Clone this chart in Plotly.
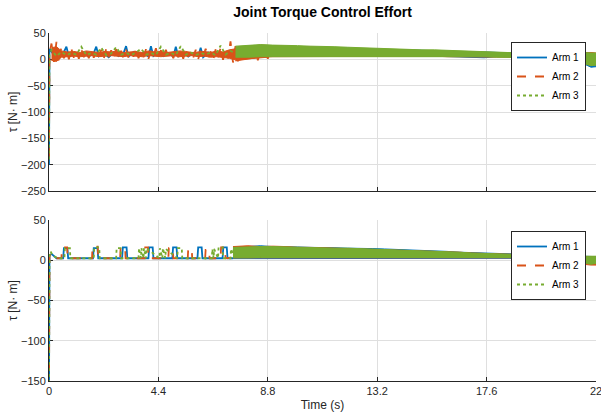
import plotly.graph_objects as go

# ---------------- data ----------------
# upper subplot: resolved start-up portion of each arm's torque
t_top_arm1 = [0.0, 0.02, 0.2, 0.4, 0.6, 0.7, 0.8, 1.0, 1.2, 1.4, 1.6, 1.8, 1.9, 2.0, 2.2, 2.4, 2.6,
              2.8, 3.0, 3.1, 3.2, 3.4, 3.6, 3.8, 4.0, 4.1, 4.2, 4.4, 4.6, 4.8, 5.0, 5.1, 5.2,
              5.4, 5.6, 5.8, 6.0, 6.1, 6.2, 6.4, 6.6, 6.8, 7.0, 7.2, 7.4, 7.5]
tau_top_arm1 = [-200, 20, 8, 2, 14, 24, 5, 12, 6, 13, 5, 12, 24, 6, 13, 4, 13,
                6, 12, 25, 5, 14, 6, 13, 5, 25, 6, 12, 6, 12, 5, 24, 6,
                14, 5, 12, 6, 22, 4, 13, 6, 12, 5, 13, 4, 12]

t_top_arm2 = [0.0, 0.02, 0.1, 0.2, 0.3, 0.4, 0.5, 0.6, 0.7, 0.8, 0.9, 1.0, 1.1, 1.2, 1.3, 1.4, 1.5,
              1.6, 1.7, 1.8, 1.9, 2.0, 2.1, 2.2, 2.3, 2.4, 2.5, 2.6, 2.7, 2.8, 2.9, 3.0, 3.1,
              3.2, 3.3, 3.4, 3.5, 3.6, 3.7, 3.8, 3.9, 4.0, 4.1, 4.2, 4.3, 4.4, 4.5, 4.6, 4.7,
              4.8, 4.9, 5.0, 5.1, 5.2, 5.3, 5.4, 5.5, 5.6, 5.7, 5.8, 5.9, 6.0, 6.1, 6.2, 6.3,
              6.4, 6.5, 6.6, 6.7, 6.8, 6.9, 7.0, 7.1, 7.2, 7.3, 7.4, 7.5, 7.6, 7.7, 7.8, 7.9,
              8.0, 8.1, 8.2, 8.3, 8.4, 8.5, 8.6, 8.7, 8.8, 8.9]
tau_top_arm2 = [-185, 12, 30, -5, 33, -8, 25, 2, 18, 0, 20, 3, 17, 1, 19, 4, 16,
                2, 21, 3, 15, 5, 18, 1, 20, 4, 17, 2, 19, 6, 16, 2, 18,
                3, 14, 5, 20, 2, 17, 4, 19, 1, 16, 5, 21, 3, 17, 2, 18,
                6, 15, 2, 19, 4, 17, 1, 20, 5, 16, 3, 18, 0, 17, 4, 20,
                2, 15, -2, 19, 3, 22, -1, 18, 2, 34, -6, 25, -4, 20, 0, 18,
                -3, 21, 2, 19, -2, 18, 3, 17, 1, 16]

# envelope of Arm 2's dense chatter during start-up
t_top_arm2_env = [0.1, 0.3, 0.5, 0.75, 1.0, 1.25, 1.5, 1.75, 2.0, 2.25, 2.5, 2.75,
                  3.0, 3.25, 3.5, 3.75, 4.0, 4.25, 4.5, 4.75, 5.0, 5.25, 5.5, 5.75,
                  6.0, 6.25, 6.5, 6.75, 7.0, 7.25, 7.5, 7.75, 8.0, 8.25, 8.5, 8.8]
top_arm2_env_hi = [22, 24, 16, 14, 15, 13, 16, 14, 13, 15, 14, 16,
                   13, 14, 15, 13, 16, 14, 15, 13, 14, 16, 15, 13,
                   14, 15, 13, 16, 14, 18, 20, 18, 18, 17, 17, 16]
top_arm2_env_lo = [-2, -4, 4, 5, 6, 5, 6, 7, 5, 6, 7, 6,
                   5, 7, 6, 5, 7, 6, 5, 6, 7, 5, 6, 7,
                   5, 6, 4, 5, 3, 2, -1, 0, 1, 2, 3, 4]

t_top_arm3 = [0.0, 0.02, 0.1, 0.3, 0.5, 0.7, 0.9, 1.1, 1.3, 1.5, 1.7, 1.9, 2.1, 2.3, 2.5, 2.7, 2.9,
              3.1, 3.3, 3.5, 3.7, 3.9, 4.1, 4.3, 4.5, 4.7, 4.9, 5.1, 5.3, 5.5, 5.7, 5.9, 6.1,
              6.3, 6.5, 6.7, 6.9, 7.1, 7.3, 7.5]
tau_top_arm3 = [-190, 10, 18, 6, 14, 8, 12, 9, 24, 8, 12, 9, 22, 8, 11, 23, 9,
                12, 8, 13, 20, 9, 12, 8, 24, 9, 12, 8, 25, 9, 13, 8, 12,
                9, 13, 8, 26, 9, 16, 12]

# upper subplot: envelope of the fast oscillation after 7.5 s
t_top_band = [7.5, 8.0, 8.5, 9.0, 9.5, 10.0, 10.5, 11.0, 11.5, 12.0, 12.5, 13.0, 13.5, 14.0,
              14.5, 15.0, 15.5, 16.0, 16.5, 17.0, 17.5, 18.0, 18.5, 19.0, 19.5, 20.0, 20.5,
              21.0, 21.5, 21.8, 22.0]
top_band_hi_arm1 = [22, 25, 26, 25, 25, 24, 23, 23, 22, 21, 20, 20, 19, 18,
                    18, 17, 17, 16, 15, 14, 14, 13, 12, 11, 11, 10, 10,
                    11, 12, 12, 11]
top_band_lo_arm1 = [5, 5, 6, 6, 6, 6, 6, 6, 6, 6, 7, 7, 7, 7,
                    7, 6, 6, 6, 5, 4, 3, 5, 5, 5, 5, 4, 4,
                    3, -8, -15, -14]
top_band_hi_arm2 = [22, 25, 27, 26, 25, 24, 23, 22, 21, 21, 20, 19, 19, 18,
                    17, 16, 16, 15, 14, 14, 13, 12, 12, 11, 10, 10, 9,
                    10, 13, 13, 12]
top_band_lo_arm2 = [-3, 0, 4, 5, 5, 5, 6, 6, 6, 6, 6, 6, 6, 6,
                    6, 6, 6, 5, 5, 5, 5, 5, 4, 4, 4, 4, 3,
                    3, -6, -12, -10]
top_band_hi_arm3 = [25, 27, 28, 27, 27, 26, 25, 25, 24, 23, 22, 21, 21, 20,
                    19, 18, 18, 17, 16, 15, 15, 14, 13, 12, 12, 11, 11,
                    12, 13, 12, 12]
top_band_lo_arm3 = [4, 4, 5, 5, 5, 5, 5, 5, 5, 5, 6, 6, 6, 6,
                    6, 6, 5, 5, 5, 5, 5, 4, 4, 4, 4, 3, 3,
                    2, -8, -12, -11]

# lower subplot: start-up transient and switching pulses of each arm
t_bot_arm1 = [0.0, 0.02, 0.1, 0.3, 0.57, 0.6, 0.74, 0.77, 1.77, 1.8, 1.95, 1.98,
              2.94, 2.97, 3.12, 3.15, 4.0, 4.03, 4.17, 4.2, 4.96, 4.99, 5.13, 5.16,
              5.97, 6.0, 6.14, 6.17, 6.98, 7.01, 7.15, 7.18, 7.4]
tau_bot_arm1 = [-160, 6, 8, 2.5, 2.5, 15, 15, 2.5, 2.5, 15, 15, 2.5,
                2.5, 16, 16, 2.5, 2.5, 16, 16, 2.5, 2.5, 16, 16, 2.5,
                2.5, 16, 16, 2.5, 2.5, 16, 16, 2.5, 2.5]

t_bot_arm2 = [0.0, 0.02, 0.08, 0.3, 0.5, 0.52, 0.73, 0.75, 1.73, 1.75, 1.96, 1.98,
              2.86, 2.88, 3.06, 3.08, 3.85, 3.87, 3.98, 4.0, 4.8, 4.82, 4.98, 5.0,
              5.58, 5.6, 5.74, 5.76, 6.28, 6.3, 6.44, 6.46, 6.9, 6.92, 7.08, 7.1, 7.4]
tau_bot_arm2 = [-160, 5, 9, 2.5, 2.5, 16, 16, 2.5, 2.5, 17, 17, 2.5,
                2.5, 16, 16, 2.5, 2.5, 16, 16, 2.5, 2.5, 15, 15, 2.5,
                2.5, 14, 14, 2.5, 2.5, 13, 13, 2.5, 2.5, 16, 16, 2.5, 3]

t_bot_arm3 = [0.0, 0.02, 0.06, 0.15, 0.35, 0.62, 0.64, 0.84, 0.86, 1.8, 1.82, 2.02, 2.04,
              2.7, 2.72, 2.88, 2.9, 3.6, 3.62, 3.7, 3.72, 3.8, 3.82, 3.9, 3.92,
              4.44, 4.46, 4.56, 4.58, 4.68, 4.7, 5.16, 5.18, 5.34, 5.36,
              6.55, 6.57, 6.62, 6.64, 6.8, 6.82, 6.98, 7.0, 7.3, 7.32, 7.4]
tau_bot_arm3 = [-160, 8, 11, 6, 2.5, 2.5, 15, 15, 2.5, 2.5, 16, 16, 2.5,
                2.5, 15, 15, 2.5, 2.5, 15, 2.5, 15, 2.5, 15, 2.5, 15,
                2.5, 15, 2.5, 15, 2.5, 14, 2.5, 15, 15, 2.5,
                2.5, 14, 2.5, 14, 2.5, 16, 16, 2.5, 2.5, 14, 8]

# lower subplot: envelope of the fast oscillation after 7.4 s
t_bot_band = [7.4, 8.0, 8.5, 9.0, 9.5, 10.0, 10.5, 11.0, 11.5, 12.0, 12.5, 13.0, 13.5, 14.0,
              14.5, 15.0, 15.5, 16.0, 16.5, 17.0, 17.5, 18.0, 18.5, 19.0, 19.5, 20.0, 20.5,
              21.0, 21.5, 21.8, 22.0]
bot_band_hi_arm1 = [16, 17, 18, 17, 17, 16.5, 16, 16, 15.5, 15, 15, 14.5, 14, 13.5,
                    12.5, 12, 11.5, 11, 10, 9.5, 9, 8, 7.5, 7, 6.5, 6, 5.5,
                    5, 5, 5, 4.5]
bot_band_lo_arm1 = [2, 2, 2.5, 2.5, 2.5, 2.5, 2.5, 2.5, 2.5, 2.5, 2.5, 2.5, 2.5, 2.5,
                    2.5, 2.5, 2.5, 2.5, 2.5, 2.5, 2.5, 2.5, 2.5, 2.5, 2.5, 2.5, 2.5,
                    2, 1, 0, 0]
bot_band_hi_arm2 = [17, 18, 17, 17.5, 17, 16, 16, 15.5, 15, 15, 14.5, 14, 13.5, 13,
                    12.5, 12, 11, 10.5, 10, 9, 8.5, 8, 7, 6.5, 6, 5.5, 5,
                    5, 4.5, 4, 4]
bot_band_lo_arm2 = [3, 3, 3.5, 3.5, 3.5, 3.5, 3.5, 3.5, 3.5, 3.5, 3.5, 3.5, 3.5, 3.5,
                    3.5, 3.5, 3.5, 3.5, 3.5, 3.5, 3.5, 3.5, 3.5, 3.5, 3.5, 3, 3,
                    2, -5, -6, -6]
bot_band_hi_arm3 = [16, 17, 17, 17, 16.5, 16.5, 16, 15.5, 15, 15, 14.5, 14, 13.5, 13,
                    12, 12, 11, 10.5, 10, 9, 8.5, 8, 7, 6.5, 6, 5.5, 5,
                    5, 5, 5, 5]
bot_band_lo_arm3 = [3, 3, 3.5, 3.5, 3.5, 3.5, 4, 4, 4, 4, 4, 4, 4, 4,
                    4, 4, 4, 4, 4, 4, 4, 4, 4, 4, 3.5, 3.5, 3.5,
                    2, -3, -5, -4]

arm_names = ["Arm 1", "Arm 2", "Arm 3"]
time_ticks = [0, 4.4, 8.8, 13.2, 17.6, 22]
top_y_ticks = [-250, -200, -150, -100, -50, 0, 50]
bot_y_ticks = [-150, -100, -50, 0, 50]

# ---------------- styling ----------------
colors = ["#0072BD", "#D95319", "#77AC30"]
dashes = ["solid", "dash", "dot"]
axis_color = "#262626"
grid_color = "#dfdfdf"
font_family = "Liberation Sans, Arial, sans-serif"

fig = go.Figure()

top_series = [(t_top_arm1, tau_top_arm1), (t_top_arm2, tau_top_arm2), (t_top_arm3, tau_top_arm3)]
top_bands = [(t_top_band, top_band_hi_arm1, top_band_lo_arm1),
             (t_top_band, top_band_hi_arm2, top_band_lo_arm2),
             (t_top_band, top_band_hi_arm3, top_band_lo_arm3)]
top_early = {1: (t_top_arm2_env, top_arm2_env_hi, top_arm2_env_lo)}
bot_series = [(t_bot_arm1, tau_bot_arm1), (t_bot_arm2, tau_bot_arm2), (t_bot_arm3, tau_bot_arm3)]
bot_bands = [(t_bot_band, bot_band_hi_arm1, bot_band_lo_arm1),
             (t_bot_band, bot_band_hi_arm2, bot_band_lo_arm2),
             (t_bot_band, bot_band_hi_arm3, bot_band_lo_arm3)]


def add_envelope(t, hi, lo, i, xaxis, yaxis, grp):
    # oscillation too fast to resolve, drawn as the filled envelope it renders as
    fig.add_trace(go.Scatter(
        x=t + t[::-1], y=hi + lo[::-1],
        fill="toself", fillcolor=colors[i], mode="lines",
        line=dict(color=colors[i], width=1),
        xaxis=xaxis, yaxis=yaxis, legendgroup=grp, showlegend=False,
        hoverinfo="skip"))


def add_panel(series, bands, early, xaxis, yaxis, legend, group_prefix):
    for i in range(3):
        grp = f"{group_prefix}{i}"
        add_envelope(*bands[i], i, xaxis, yaxis, grp)
        if i in early:
            add_envelope(*early[i], i, xaxis, yaxis, grp)
        t, v = series[i]
        fig.add_trace(go.Scatter(
            x=t, y=v, mode="lines", name=arm_names[i],
            line=dict(color=colors[i], width=1.8, dash=dashes[i]),
            xaxis=xaxis, yaxis=yaxis, legend=legend, legendgroup=grp))


add_panel(top_series, top_bands, top_early, "x", "y", "legend", "top")
add_panel(bot_series, bot_bands, {}, "x2", "y2", "legend2", "bot")

x_dom = [49 / 601, 596 / 601]
tick_font = dict(family=font_family, size=11, color=axis_color)

common_x = dict(
    domain=x_dom, range=[0, 22], tickvals=time_ticks, showgrid=True, gridcolor=grid_color,
    gridwidth=1, zeroline=False, showline=True, linecolor=axis_color, linewidth=1,
    ticks="inside", ticklen=4, tickcolor=axis_color, tickfont=tick_font, automargin=False,
    ticklabeloverflow="allow")
common_y = dict(
    showgrid=True, gridcolor=grid_color, gridwidth=1, zeroline=False, showline=True,
    linecolor=axis_color, linewidth=1, ticks="inside", ticklen=4, tickcolor=axis_color,
    tickfont=tick_font, automargin=False, layer="below traces",
    title=dict(text="τ [N· m]", font=dict(family=font_family, size=12, color=axis_color),
               standoff=0))

legend_style = dict(
    x=586 / 601, xanchor="right", bgcolor="white", bordercolor=axis_color, borderwidth=1,
    font=dict(family=font_family, size=10, color="#000000"), tracegroupgap=0)

fig.update_layout(
    width=601, height=414, margin=dict(l=0, r=0, t=0, b=0),
    paper_bgcolor="white", plot_bgcolor="white",
    title=dict(text="<b>Joint Torque Control Effort</b>", x=322.5 / 601, xanchor="center",
               y=1 - 12 / 414, yanchor="middle",
               font=dict(family=font_family, size=14, color="#000000")),
    xaxis=dict(common_x, anchor="y", showticklabels=False),
    yaxis=dict(common_y, domain=[1 - 191 / 414, 1 - 33 / 414], range=[-250, 50],
               tickvals=top_y_ticks, anchor="x"),
    xaxis2=dict(common_x, anchor="y2",
                title=dict(text="Time (s)", font=dict(family=font_family, size=12,
                                                     color=axis_color), standoff=4)),
    yaxis2=dict(common_y, domain=[1 - 381 / 414, 1 - 220 / 414], range=[-150, 50],
                tickvals=bot_y_ticks, anchor="x2"),
    legend=dict(legend_style, y=1 - 42 / 414, yanchor="top"),
    legend2=dict(legend_style, y=1 - 231 / 414, yanchor="top"),
    showlegend=True,
)

fig.write_html("out.html")
